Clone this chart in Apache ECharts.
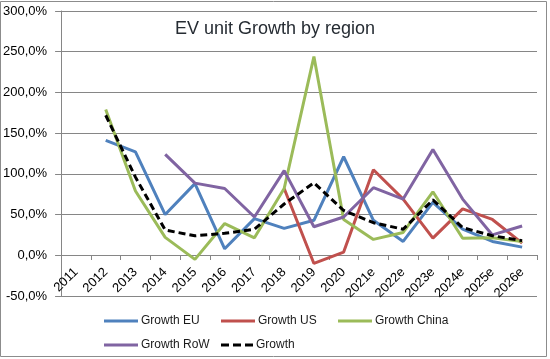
<!DOCTYPE html>
<html>
<head>
<meta charset="utf-8">
<script src="https://cdn.jsdelivr.net/npm/echarts@6/dist/echarts.min.js"></script>
<style>html,body{margin:0;padding:0;background:#fff}#c{width:550px;height:359px}</style>
</head>
<body>
<div id="c"></div>
<script>
var categories = ['2011','2012','2013','2014','2015','2016','2017','2018','2019','2020','2021e','2022e','2023e','2024e','2025e','2026e'];
var growthEU    = [null, 141, 127, 50, 88, 8, 45, 33, 43, 121, 43, 17, 65, 32, 17, 10];
var growthUS    = [null, null, null, null, null, null, null, 82, -10, 4, 105, 69, 21, 57, 44, 15];
var growthChina = [null, 179, 79, 22, -5, 39, 21.5, 82, 244, 44, 19.5, 28, 78, 21, 21.5, 17];
var growthRoW   = [null, null, null, 124, 88.6, 82, 47, 104, 35, 47, 83, 69, 130, 69, 25, 36];
var growthAll   = [null, 172, 96, 31, 24, 27, 32, 63, 89, 55, 40, 32, 68, 34, 24, 18];
var yTicks = {min: -50, max: 300, interval: 50};

var font = 'Liberation Sans, Arial, sans-serif';
function fmt(v){ return v.toFixed(1).replace('.', ',') + '%'; }
function line(name, data, color, dashed){
  return {
    name: name, type: 'line', data: data, symbol: 'none', showSymbol: false, smooth: false,
    connectNulls: false, animation: false,
    lineStyle: {color: color, width: 3, type: dashed ? [7,4] : 'solid'},
    itemStyle: {color: color}
  };
}
var solidIcon = 'path://M0,0h34v3h-34z';
var dashIcon = 'path://M0,0h8v3h-8zM12,0h8v3h-8zM24,0h8v3h-8z';
function leg(name, left, top, icon, w){
  return {data: [{name: name, icon: icon}], left: left, top: top, padding: 0, itemWidth: w, itemHeight: 3,
    textStyle: {fontFamily: font, fontSize: 12, color: '#1a1a1a', padding: [0,0,0,-2]}};
}
var chart = echarts.init(document.getElementById('c'), null, {renderer: 'canvas'});
chart.setOption({
  backgroundColor: '#ffffff',
  animation: false,
  title: {text: 'EV unit Growth by region', left: 'center', top: 15,
    textStyle: {fontFamily: font, fontSize: 18, fontWeight: 'normal', color: '#262c33'}},
  graphic: [{type: 'rect', shape: {x: 0.5, y: 1.5, width: 546, height: 355},
    style: {fill: 'none', stroke: '#8c8c8c', lineWidth: 1}, silent: true, z: -1}],
  legend: [
    leg('Growth EU', 104, 315, solidIcon, 34),
    leg('Growth US', 221, 315, solidIcon, 34),
    leg('Growth China', 338, 315, solidIcon, 34),
    leg('Growth RoW', 104, 339, solidIcon, 34),
    leg('Growth', 221, 339, dashIcon, 32)
  ],
  grid: {left: 59, right: 13, top: 11, bottom: 63, containLabel: false},
  xAxis: {
    type: 'category', data: categories, boundaryGap: true, position: 'bottom', offset: -41,
    axisLine: {onZero: false, lineStyle: {color: '#868686', width: 1}},
    axisTick: {show: true, length: 5, inside: false, interval: 0, lineStyle: {color: '#868686'}},
    axisLabel: {rotate: 45, interval: 0, margin: 15, fontFamily: font, fontSize: 13, color: '#000'},
    splitLine: {show: false}
  },
  yAxis: {
    type: 'value', min: yTicks.min, max: yTicks.max, interval: yTicks.interval,
    axisLine: {show: true, lineStyle: {color: '#868686'}},
    axisTick: {show: true, length: 6, lineStyle: {color: '#868686'}},
    axisLabel: {formatter: fmt, fontFamily: font, fontSize: 13, color: '#000', margin: 14},
    splitLine: {lineStyle: {color: '#868686', width: 1}}
  },
  series: [
    line('Growth EU', growthEU, '#4F81BD'),
    line('Growth US', growthUS, '#C0504D'),
    line('Growth China', growthChina, '#9BBB59'),
    line('Growth RoW', growthRoW, '#8064A2'),
    line('Growth', growthAll, '#000000', true)
  ]
});
</script>
</body>
</html>
